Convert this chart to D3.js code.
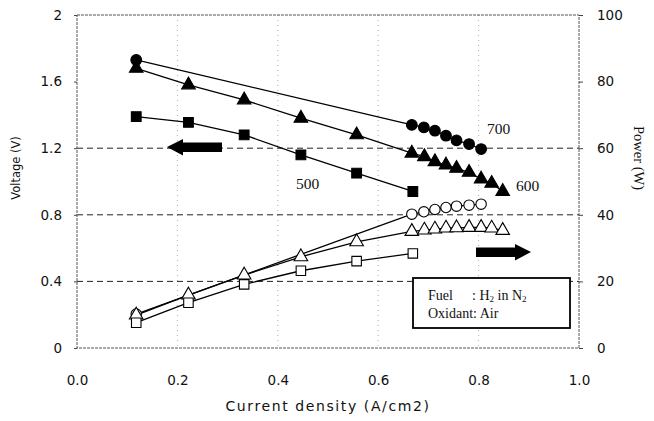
<!DOCTYPE html>
<html>
<head>
<meta charset="utf-8">
<script src="https://cdn.jsdelivr.net/npm/d3@7"></script>
<style>
  body { margin: 0; background: #fff; }
  text { fill: #111; }
  .sans { font-family: "DejaVu Sans", sans-serif; }
  .serif { font-family: "Liberation Serif", serif; }
</style>
</head>
<body>
<div id="chart"></div>
<script>
// voltage series (solid markers)
const v700x = [0.118, 0.667, 0.691, 0.713, 0.735, 0.756, 0.781, 0.805];
const v700 = [1.73, 1.34, 1.325, 1.305, 1.275, 1.247, 1.225, 1.195];
const v600x = [0.118, 0.222, 0.333, 0.446, 0.557, 0.667, 0.692, 0.713, 0.735, 0.756, 0.781, 0.805, 0.826, 0.848];
const v600 = [1.68, 1.58, 1.49, 1.38, 1.28, 1.17, 1.149, 1.119, 1.099, 1.079, 1.055, 1.015, 0.989, 0.94];
const v500x = [0.118, 0.222, 0.333, 0.446, 0.557, 0.669];
const v500 = [1.39, 1.355, 1.28, 1.16, 1.05, 0.94];
// power series (open markers)
const p700 = [10.2, 40.2, 40.9, 41.6, 42.2, 42.6, 42.9, 43.2];
const p600 = [9.9, 15.9, 21.9, 27.4, 31.9, 35.0, 35.4, 35.7, 36.0, 36.1, 36.2, 36.2, 36.0, 35.3];
const p500 = [7.6, 13.6, 19.1, 23.2, 26.1, 28.4];

const xTicks = [0, 0.2, 0.4, 0.6, 0.8, 1.0];
const vTicks = [0, 0.4, 0.8, 1.2, 1.6, 2];
const pTicks = [0, 20, 40, 60, 80, 100];
const vGrid = [0.4, 0.8, 1.2];
const xGrid = [0.2, 0.4, 0.6, 0.8];

const width = 654, height = 421;
const area = { left: 77, right: 579, top: 15, bottom: 348 };

const svg = d3.select('#chart').append('svg').attr('width', width).attr('height', height);

const xScale = d3.scaleLinear().domain([0, 1]).range([area.left, area.right]);
const yV = d3.scaleLinear().domain([0, 2]).range([area.bottom, area.top]);
const yP = d3.scaleLinear().domain([0, 100]).range([area.bottom, area.top]);

// gridlines
svg.append('g').selectAll('line').data(xGrid).join('line')
  .attr('x1', d => xScale(d)).attr('x2', d => xScale(d))
  .attr('y1', area.top).attr('y2', area.bottom)
  .attr('stroke', '#999').attr('stroke-width', 0.8).attr('stroke-dasharray', '1,4');
svg.append('g').selectAll('line').data(vGrid).join('line')
  .attr('x1', area.left).attr('x2', area.right)
  .attr('y1', d => yV(d)).attr('y2', d => yV(d))
  .attr('stroke', '#222').attr('stroke-width', 1).attr('stroke-dasharray', '6,4');

// frame
svg.append('rect').attr('x', area.left).attr('y', area.top)
  .attr('width', area.right - area.left).attr('height', area.bottom - area.top)
  .attr('fill', 'none').attr('stroke', '#555').attr('stroke-width', 1).attr('stroke-dasharray', '3,1');

// axes
const xAxis = d3.axisBottom(xScale).tickValues(xTicks).tickFormat(d3.format('.1f')).tickSize(0).tickPadding(27);
const lAxis = d3.axisLeft(yV).tickValues(vTicks).tickFormat(d => d === 0 ? '0' : d === 2 ? '2' : d3.format('.1f')(d)).tickSize(3).tickPadding(12);
const rAxis = d3.axisRight(yP).tickValues(pTicks).tickSize(4).tickPadding(14);

function style(g) {
  g.select('.domain').remove();
  g.attr('font-family', null).attr('font-size', null);
  g.selectAll('line').attr('stroke', '#444');
  g.selectAll('text').attr('class', 'sans').style('font-size', '13.5px').attr('fill', '#111');
}
svg.append('g').attr('transform', `translate(0,${area.bottom})`).call(xAxis).call(style);
svg.append('g').attr('transform', `translate(${area.left},0)`).call(lAxis).call(style);
svg.append('g').attr('transform', `translate(${area.right},0)`).call(rAxis).call(style);

// axis titles
svg.append('text').attr('class', 'sans').attr('x', 328).attr('y', 411).attr('text-anchor', 'middle')
  .style('font-size', '14px').attr('letter-spacing', 1.6).text('Current density (A/cm2)');
svg.append('text').attr('class', 'sans').attr('transform', 'translate(20,168) rotate(-90)').attr('text-anchor', 'middle')
  .style('font-size', '11.5px').text('Voltage (V)');
svg.append('text').attr('class', 'serif').attr('transform', 'translate(634,158) rotate(90)').attr('text-anchor', 'middle')
  .style('font-size', '14.5px').text('Power (W)');

const line = (xs, ys, yScale) => d3.line().x((d, i) => xScale(xs[i])).y(d => yScale(d))(ys);

const series = [
  { xs: v700x, ys: v700, y: yV, sym: d3.symbolCircle, size: 90, fill: '#000' },
  { xs: v600x, ys: v600, y: yV, sym: d3.symbolTriangle, size: 80, fill: '#000' },
  { xs: v500x, ys: v500, y: yV, sym: d3.symbolSquare, size: 95, fill: '#000' },
  { xs: v700x, ys: p700, y: yP, sym: d3.symbolCircle, size: 85, fill: '#fff' },
  { xs: v600x, ys: p600, y: yP, sym: d3.symbolTriangle, size: 80, fill: '#fff' },
  { xs: v500x, ys: p500, y: yP, sym: d3.symbolSquare, size: 90, fill: '#fff' },
];

series.forEach(s => {
  svg.append('path').attr('d', line(s.xs, s.ys, s.y))
    .attr('fill', 'none').attr('stroke', '#000').attr('stroke-width', 1.3);
});
series.forEach(s => {
  svg.append('g').selectAll('path').data(s.ys).join('path')
    .attr('transform', (d, i) => `translate(${xScale(s.xs[i])},${s.y(d)})`)
    .attr('d', d3.symbol().type(s.sym).size(s.size))
    .attr('fill', s.fill).attr('stroke', '#000').attr('stroke-width', 1.1);
});

// temperature labels
const temps = [['700', 487, 134], ['600', 516, 191], ['500', 296, 189]];
svg.append('g').selectAll('text').data(temps).join('text').attr('class', 'serif')
  .attr('x', d => d[1]).attr('y', d => d[2]).style('font-size', '15.5px').text(d => d[0]);

// arrows
svg.append('path').attr('d', 'M167,147 L183,139 L183,142.5 L222,142.5 L222,152 L183,152 L183,155.5 Z').attr('fill', '#000');
svg.append('path').attr('d', 'M531,252 L515,244 L515,247.5 L476,247.5 L476,257 L515,257 L515,260.5 Z').attr('fill', '#000');

// condition box
svg.append('rect').attr('x', 413).attr('y', 278).attr('width', 157).attr('height', 50)
  .attr('fill', '#fff').attr('stroke', '#000').attr('stroke-width', 1.8);
const t1 = svg.append('text').attr('class', 'serif').attr('x', 428).attr('y', 300).style('font-size', '14px');
t1.append('tspan').text('Fuel');
t1.append('tspan').attr('x', 472).text(': H');
t1.append('tspan').style('font-size', '9px').attr('dy', 2).text('2');
t1.append('tspan').attr('dy', -2).text(' in N');
t1.append('tspan').style('font-size', '9px').attr('dy', 2).text('2');
svg.append('text').attr('class', 'serif').attr('x', 428).attr('y', 318).style('font-size', '14px').text('Oxidant: Air');
</script>
</body>
</html>
